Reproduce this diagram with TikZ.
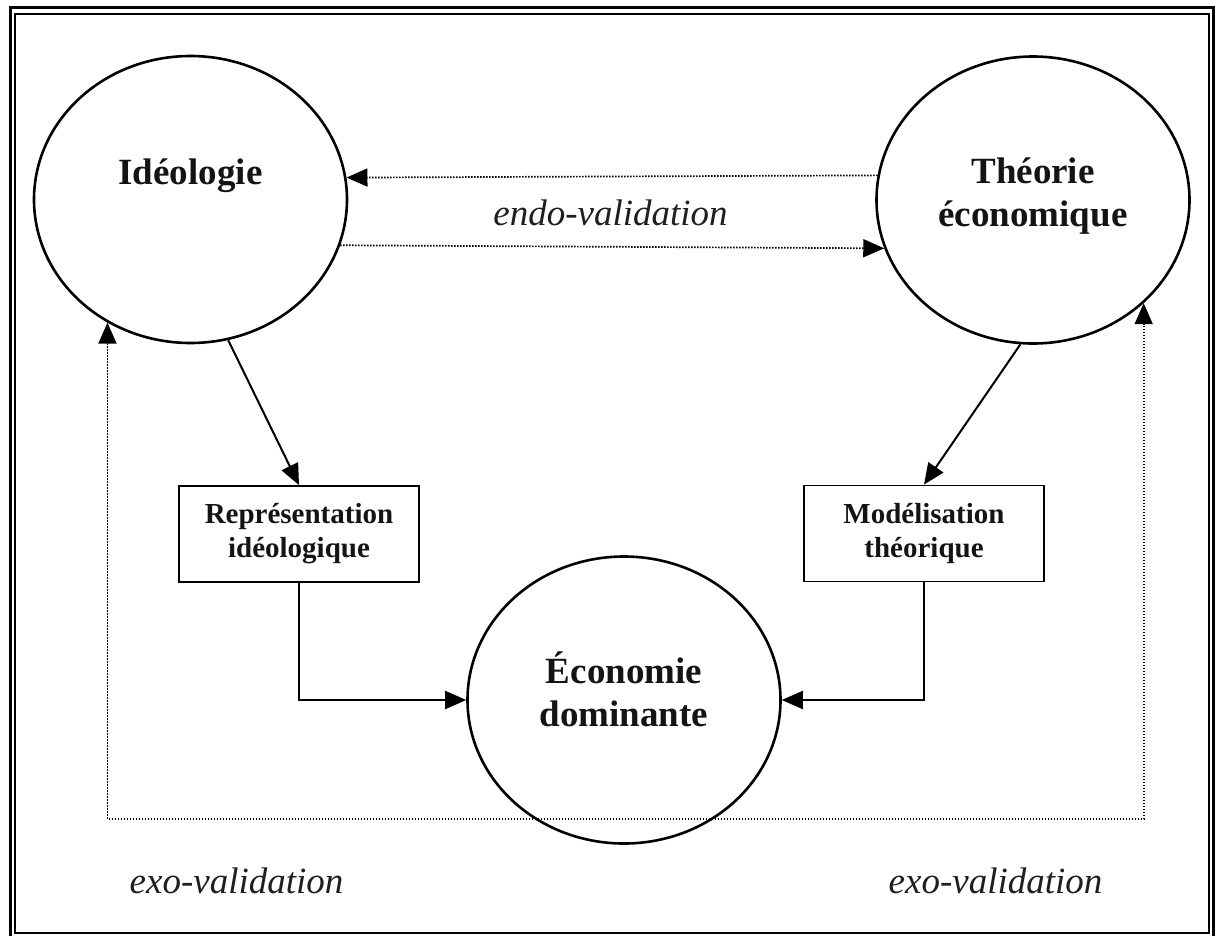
\documentclass[tikz,border=0pt]{standalone}
\usepackage{fontspec}
\setmainfont{Liberation Serif}
\usetikzlibrary{arrows.meta,shapes.geometric}
\begin{document}
\begin{tikzpicture}[x=1pt,y=-1pt,
  ell/.style={draw, ellipse, line width=2.6pt, minimum width=313pt, minimum height=287pt, inner sep=0pt},
  bigtxt/.style={anchor=base, inner sep=0pt, text=black!92, font=\fontsize{37}{43}\selectfont\bfseries},
  boxn/.style={draw, rectangle, line width=1.8pt, minimum width=240pt, minimum height=96pt, inner sep=0pt, align=center, text=black!92, font=\fontsize{29}{34}\selectfont\bfseries},
  lbl/.style={anchor=base, inner sep=0pt, text=black!88, font=\fontsize{37}{43}\selectfont\itshape},
  tipA/.tip={Triangle[length=21pt,width=18pt]},
  solidarr/.style={line width=2pt, -tipA},
  dotarr/.style={line width=1.7pt, dash pattern=on 1.5pt off 1.5pt, -tipA},
  dotboth/.style={line width=1.7pt, dash pattern=on 1.5pt off 1.5pt, tipA-tipA},
]
\useasboundingbox (0,0) rectangle (1217,935);
% double frame
\draw[line width=3pt] (10.5,7.3) rectangle (1213,937);
\draw[line width=2pt] (14.5,13.7) rectangle (1208.5,933);

% main ellipses
\node[ell] (ideo) at (190.5,199.5) {};
\node[ell] (theo) at (1033,200) {};
\node[ell] (eco) at (624,700) {};

\node[bigtxt] (ideoT) at (190.5,184) {Idéologie};
\node[bigtxt] (theoT) at (1033,183) {\begin{tabular}[t]{@{}c@{}}Théorie\\économique\end{tabular}};
\node[bigtxt] (ecoT) at (624,683) {\begin{tabular}[t]{@{}c@{}}Économie\\dominante\end{tabular}};

% boxes
\node[boxn] (rep) at (299,534) {Représentation\\idéologique};
\node[boxn] (mod) at (924,533.5) {Modélisation\\théorique};

% endo-validation
\draw[dotarr] (theo.171.5) -- (ideo.8.65);
\draw[dotarr] (ideo.-17.8) -- (theo.198.1);
\node[lbl] (endo) at (610.5,225) {endo-validation};

% solid connectors
\draw[solidarr] (ideo.-75.7) -- (rep.north);
\draw[solidarr] (theo.-95.6) -- (mod.north);
\draw[solidarr] (rep.south) |- (eco.west);
\draw[solidarr] (mod.south) |- (eco.east);

% exo-validation loop
\coordinate (bl) at (ideo.-124.5 |- 0,819);
\coordinate (br) at (theo.-43.9 |- 0,819);
\draw[dotboth] (ideo.-124.5) -- (bl) -- (br) -- (theo.-43.9);
\node[lbl] (exoL) at (236.5,893) {exo-validation};
\node[lbl] (exoR) at (995.5,893) {exo-validation};
\end{tikzpicture}
\end{document}
